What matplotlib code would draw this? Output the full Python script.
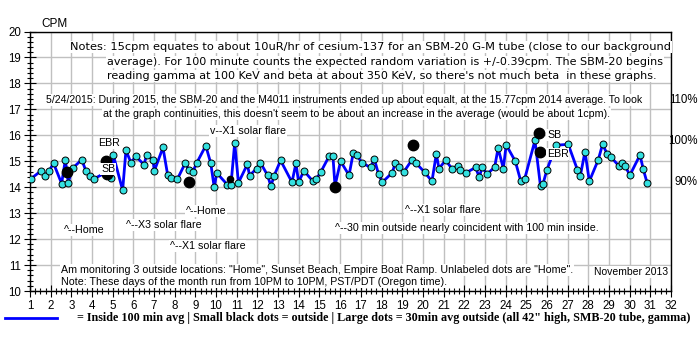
import matplotlib
matplotlib.use('Agg')
import matplotlib.pyplot as plt
from matplotlib.lines import Line2D
from matplotlib.ticker import MultipleLocator

# inside 100 min average (day of month, CPM)
days = [1.05, 1.52, 1.71, 1.93, 2.14, 2.53, 2.71, 2.85, 3.06, 3.50, 3.71, 3.90,
        4.11, 4.70, 4.93, 5.03, 5.48, 5.64, 5.88, 6.12, 6.51, 6.64, 6.95, 7.01,
        7.43, 7.66, 7.80, 8.12, 8.51, 8.67, 8.87, 9.06, 9.50, 9.74, 9.91, 10.03,
        10.54, 10.72, 10.90, 11.08, 11.51, 11.62, 11.96, 12.14, 12.49, 12.65,
        12.81, 13.12, 13.67, 13.86, 13.99, 14.25, 14.67, 14.84, 15.06, 15.47,
        15.65, 15.75, 16.02, 16.43, 16.63, 16.81, 17.05, 17.47, 17.65, 17.86,
        18.04, 18.52, 18.66, 18.86, 19.07, 19.46, 19.68, 20.08, 20.44, 20.65,
        20.78, 21.10, 21.41, 21.68, 21.79, 22.07, 22.55, 22.73, 22.86, 23.11,
        23.47, 23.64, 23.89, 24.03, 24.47, 24.74, 24.92, 25.42, 25.69, 25.81,
        26.00, 26.45, 27.03, 27.47, 27.61, 27.84, 28.05, 28.48, 28.69, 28.92,
        29.11, 29.48, 29.61, 29.79, 30.01, 30.50, 30.66, 30.85]
cpm = [14.33, 14.62, 14.45, 14.64, 14.92, 14.14, 15.06, 14.18, 14.73, 15.06, 14.62, 14.43,
       14.33, 14.58, 14.36, 15.24, 13.88, 15.42, 14.95, 15.19, 14.87, 15.23, 15.06, 14.62,
       15.53, 14.46, 14.36, 14.30, 14.93, 14.68, 14.59, 14.93, 15.60, 14.93, 13.99, 14.55,
       14.10, 14.10, 15.71, 14.17, 14.88, 14.45, 14.72, 14.95, 14.46, 14.04,
       14.45, 15.03, 14.19, 14.92, 14.20, 14.63, 14.24, 14.31, 14.58, 15.20,
       15.20, 14.05, 15.00, 14.46, 15.31, 15.23, 14.94, 14.76, 15.09, 14.49,
       14.19, 14.56, 14.92, 14.76, 14.58, 15.04, 14.92, 14.58, 14.23, 15.28,
       14.72, 15.04, 14.71, 14.82, 14.67, 14.55, 14.76, 14.38, 14.76, 14.51,
       14.77, 15.51, 14.72, 15.63, 15.00, 14.22, 14.31, 15.80, 14.03, 14.13,
       14.67, 15.62, 15.65, 14.68, 14.42, 15.37, 14.23, 15.05, 15.65, 15.27,
       15.15, 14.82, 14.93, 14.81, 14.46, 15.24, 14.69, 14.15]

# 30 min outside averages (large dots)
big_days = [2.79, 4.68, 4.74, 8.70, 15.75, 19.51, 25.63, 25.65]
big_cpm = [14.59, 15.00, 14.50, 14.20, 14.00, 15.64, 16.09, 15.37]

# outside (small dots)
small_days = [10.67]
small_cpm = [14.30]

ref_avg = 15.77
pct_ticks = [90, 100, 110]

FONT = 'Liberation Sans'
FS = 7.7

fig = plt.figure(figsize=(7, 3.5), dpi=100)
ax = fig.add_axes([30 / 700, 1 - 291 / 350, 641 / 700, 259.5 / 350])

ax.set_xlim(1, 32)
ax.set_ylim(10, 20)
ax.xaxis.set_major_locator(MultipleLocator(1))
ax.xaxis.set_minor_locator(MultipleLocator(0.25))
ax.yaxis.set_major_locator(MultipleLocator(1))
ax.yaxis.set_minor_locator(MultipleLocator(0.2))
ax.tick_params(which='major', direction='inout', length=9, width=0.8,
               labelsize=8.3, pad=2)
ax.tick_params(which='minor', direction='inout', length=5, width=0.8)
for lab in ax.get_xticklabels() + ax.get_yticklabels():
    lab.set_fontfamily(FONT)
ax.grid(True, which='major', color='#c0c0c0', linewidth=1)
ax.set_axisbelow(True)
for s in ax.spines.values():
    s.set_linewidth(1)
    s.set_color('black')

ax.plot(days, cpm, color='#0000ff', lw=2, zorder=3)
ax.plot(days, cpm, ls='none', marker='o', ms=5, mfc='#33e0e0', mec='black',
        mew=0.7, zorder=4)
ax.plot(big_days, big_cpm, ls='none', marker='o', ms=7.5, color='black', zorder=5)
ax.plot(small_days, small_cpm, ls='none', marker='o', ms=4.5, color='black', zorder=5)

# right side percentage labels relative to the 2014 average
for p in pct_ticks:
    ax.text(1.041, ref_avg * p / 100, '%d%%' % p, transform=ax.get_yaxis_transform(),
            ha='right', va='center', fontsize=8.3, family=FONT)

box = dict(facecolor='white', edgecolor='none', pad=0.5)


def note(x, y, s, ha='left', size=FS, family=FONT):
    fig.text(x / 700, 1 - y / 350, s, ha=ha, va='center', fontsize=size,
             family=family, bbox=box, zorder=10)


fig.text(41 / 700, 1 - 24 / 350, 'CPM', ha='left', va='center', fontsize=8.5,
         family=FONT)
note(70, 47, 'Notes: 15cpm equates to about 10uR/hr of cesium-137 for an SBM-20 G-M tube (close to our background',
     size=8.2, family='DejaVu Sans')
note(107, 62, 'average). For 100 minute counts the expected random variation is +/-0.39cpm. The SBM-20 begins',
     size=8.0, family='DejaVu Sans')
note(107, 76, "reading gamma at 100 KeV and beta at about 350 KeV, so there's not much beta  in these graphs.",
     size=8.0, family='DejaVu Sans')
note(46, 100, '5/24/2015: During 2015, the SBM-20 and the M4011 instruments ended up about equalt, at the 15.77cpm 2014 average. To look',
     size=7.6)
note(103, 114, "at the graph continuities, this doesn't seem to be about an increase in the average (would be about 1cpm).",
     size=7.7)
note(210, 131, 'v--X1 solar flare')
note(98, 143, 'EBR')
note(101, 169, 'SB')
note(547, 135, 'SB')
note(547, 154, 'EBR')
note(186, 211, '^--Home')
note(126, 225, '^--X3 solar flare')
note(64, 230, '^--Home')
note(170, 246, '^--X1 solar flare')
note(405, 210, '^--X1 solar flare')
note(335, 228, '^--30 min outside nearly coincident with 100 min inside.')
note(61, 270, 'Am monitoring 3 outside locations: "Home", Sunset Beach, Empire Boat Ramp. Unlabeled dots are "Home".')
note(61, 282, 'Note: These days of the month run from 10PM to 10PM, PST/PDT (Oregon time).')
note(668, 272, 'November 2013', ha='right', size=7.5)

# legend line at the bottom
fig.add_artist(Line2D([5 / 700, 57 / 700], [1 - 318 / 350, 1 - 318 / 350],
                      color='#0000ff', lw=2))
fig.text(77 / 700, 1 - 318 / 350,
         '= Inside 100 min avg | Small black dots = outside | Large dots = 30min avg outside (all 42" high, SMB-20 tube, gamma)',
         ha='left', va='center', fontsize=8.7, family='Liberation Serif',
         weight='bold')

fig.savefig('out.png', dpi=100)
